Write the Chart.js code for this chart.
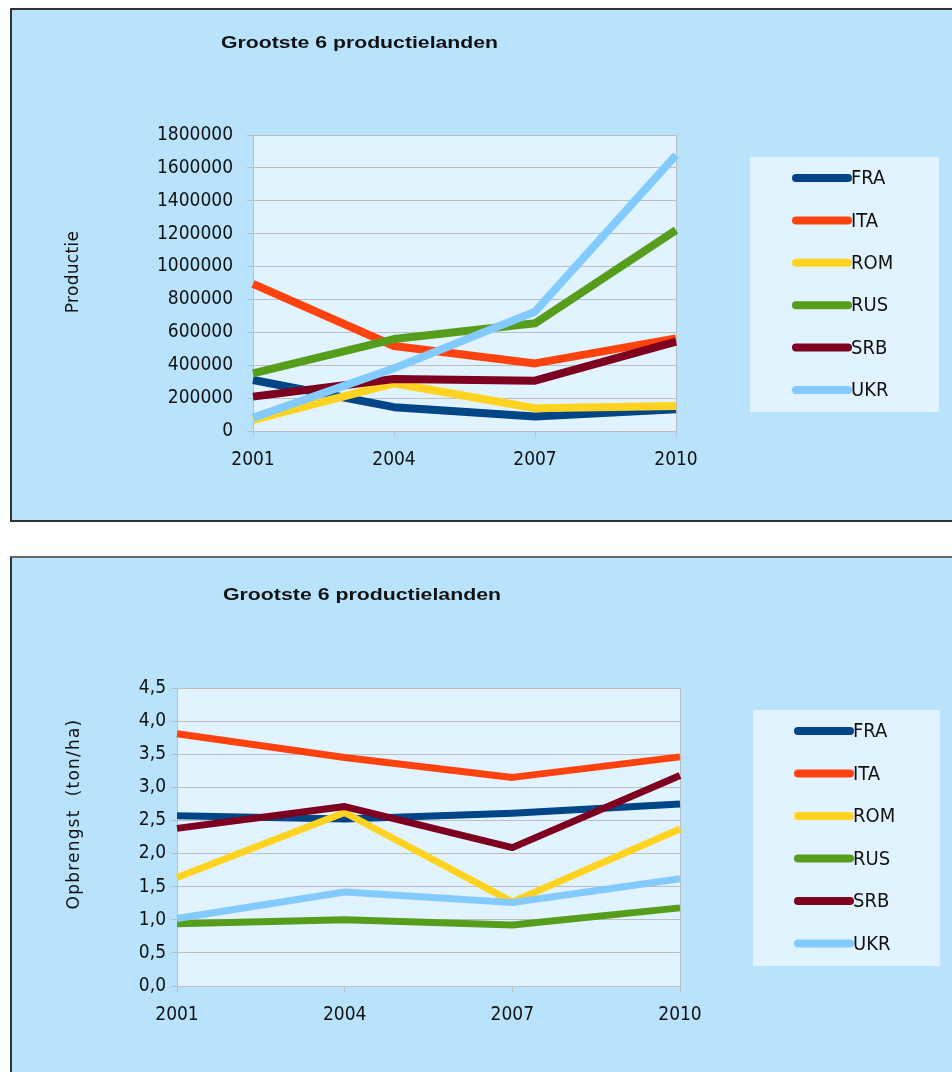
<!DOCTYPE html>
<html>
<head>
<meta charset="utf-8">
<script src="https://cdn.jsdelivr.net/npm/chart.js@4.4.0/dist/chart.umd.min.js"></script>
<style>
  html, body { margin: 0; padding: 0; background: #ffffff; width: 952px; height: 1072px; overflow: hidden; }
  .panel { position: absolute; left: 10px; width: 960px; background: #B9E3FD; border: 2px solid #333333; box-sizing: border-box; }
  #panel1 { top: 8px; height: 514px; }
  #panel2 { top: 556px; height: 540px; border-top-color: #6b6b6b; }
  .wrap { position: absolute; left: 0; width: 952px; }
  #wrap1 { top: 0; height: 540px; }
  #wrap2 { top: 540px; height: 532px; }
</style>
</head>
<body>
<div class="panel" id="panel1"></div>
<div class="panel" id="panel2"></div>
<div class="wrap" id="wrap1"><canvas id="prodChart" width="952" height="540"></canvas></div>
<div class="wrap" id="wrap2"><canvas id="yieldChart" width="952" height="532"></canvas></div>

<script>
// Years on the category axis and the six countries
const years = ['2001', '2004', '2007', '2010'];
const countries = ['FRA', 'ITA', 'ROM', 'RUS', 'SRB', 'UKR'];
const lineColors = ['#004586', '#FF420E', '#FFD320', '#579D1C', '#7E0021', '#83CAFF'];

// Production (ton)
const prodFRA = [310000, 145000, 88000, 132000];
const prodITA = [895000, 517000, 411000, 563000];
const prodROM = [67000, 290000, 138000, 152000];
const prodRUS = [351000, 559000, 655000, 1222000];
const prodSRB = [209000, 316000, 306000, 543000];
const prodUKR = [81000, 381000, 726000, 1678000];

// Yield (ton/ha)
const yieldFRA = [2.57, 2.52, 2.61, 2.75];
const yieldITA = [3.81, 3.45, 3.15, 3.46];
const yieldROM = [1.64, 2.62, 1.27, 2.37];
const yieldRUS = [0.94, 1.00, 0.92, 1.18];
const yieldSRB = [2.38, 2.71, 2.09, 3.18];
const yieldUKR = [1.02, 1.42, 1.26, 1.62];

// Value-axis tick labels
const prodTickLabels = ['0', '200000', '400000', '600000', '800000', '1000000', '1200000', '1400000', '1600000', '1800000'];
const yieldTickLabels = ['0,0', '0,5', '1,0', '1,5', '2,0', '2,5', '3,0', '3,5', '4,0', '4,5'];

const chartTitle = 'Grootste 6 productielanden';

const GRID = '#BBBFC2';
const PLOT_BG = '#E1F3FE';
const TEXT = '#111111';
const COND = "'DejaVu Sans Condensed', 'DejaVu Sans', sans-serif";

// Plot background, title, rotated axis title and the boxed legend
const decorPlugin = {
  id: 'decor',
  beforeDraw(chart, args, o) {
    const { ctx, chartArea: a } = chart;
    ctx.save();
    ctx.fillStyle = PLOT_BG;
    ctx.fillRect(a.left, a.top, a.right - a.left, a.bottom - a.top);
    ctx.restore();
  },
  afterDraw(chart, args, o) {
    const ctx = chart.ctx;
    // chart title (wide bold sans)
    ctx.save();
    ctx.font = 'bold 17px "Liberation Sans", Arial, sans-serif';
    ctx.fillStyle = TEXT;
    ctx.textBaseline = 'alphabetic';
    ctx.textAlign = 'left';
    const w = ctx.measureText(chartTitle).width;
    ctx.translate(o.titleX, o.titleY);
    ctx.scale(o.titleW / w, 1);
    ctx.fillText(chartTitle, 0, 0);
    ctx.restore();

    // value-axis title
    ctx.save();
    ctx.font = '17px "DejaVu Sans", sans-serif';
    ctx.letterSpacing = o.axisSpacing;
    ctx.fillStyle = TEXT;
    ctx.textAlign = 'center';
    ctx.textBaseline = 'alphabetic';
    ctx.translate(o.axisX, o.axisY);
    ctx.rotate(-Math.PI / 2);
    ctx.fillText(o.axisTitle, 0, 0);
    ctx.restore();

    // legend
    const L = o.legend;
    ctx.save();
    ctx.fillStyle = PLOT_BG;
    ctx.fillRect(L.x, L.y, L.w, L.h);
    chart.data.datasets.forEach((ds, i) => {
      const yy = L.firstRow + i * L.rowStep;
      ctx.strokeStyle = ds.borderColor;
      ctx.lineWidth = 8;
      ctx.lineCap = 'round';
      ctx.beginPath();
      ctx.moveTo(L.lineX1, yy);
      ctx.lineTo(L.lineX2, yy);
      ctx.stroke();
      ctx.fillStyle = TEXT;
      ctx.font = '20px ' + COND;
      ctx.textAlign = 'left';
      ctx.textBaseline = 'middle';
      ctx.fillText(ds.label, L.lineX2 + 3, yy + 1);
    });
    ctx.restore();
  }
};

function buildChart(canvasId, series, cfg) {
  const datasets = series.map((values, i) => ({
    label: countries[i],
    data: values,
    borderColor: lineColors[i],
    backgroundColor: lineColors[i],
    borderWidth: cfg.lineWidth,
    pointRadius: 0,
    pointHoverRadius: 0,
    tension: 0,
    fill: false,
    borderJoinStyle: 'round',
    order: series.length - i
  }));
  return new Chart(document.getElementById(canvasId), {
    type: 'line',
    data: { labels: years, datasets },
    plugins: [decorPlugin],
    options: {
      responsive: false,
      animation: false,
      events: [],
      layout: { padding: cfg.padding },
      plugins: {
        legend: { display: false },
        title: { display: false },
        tooltip: { enabled: false },
        decor: cfg.decor
      },
      scales: {
        x: {
          type: 'category',
          offset: false,
          grid: {
            drawOnChartArea: true,
            color: (c) => (c.index === years.length - 1 ? GRID : 'rgba(0,0,0,0)'),
            tickColor: GRID,
            tickLength: 6,
            lineWidth: 1
          },
          border: { display: true, color: GRID },
          ticks: { font: { family: COND, size: 19 }, color: TEXT, padding: 12, maxRotation: 0, autoSkip: false },
          afterFit: (s) => { s.height = 40; }
        },
        y: {
          min: 0,
          max: cfg.max,
          ticks: {
            stepSize: cfg.step,
            callback: (v, i) => cfg.tickLabels[i],
            font: { family: COND, size: 19 },
            color: TEXT,
            padding: cfg.yPad
          },
          grid: { color: GRID, tickColor: GRID, tickLength: 6, lineWidth: 1 },
          border: { display: true, color: GRID },
          afterFit: (s) => { s.width = cfg.yWidth; }
        }
      }
    }
  });
}

buildChart('prodChart', [prodFRA, prodITA, prodROM, prodRUS, prodSRB, prodUKR], {
  lineWidth: 8,
  max: 1800000,
  step: 200000,
  tickLabels: prodTickLabels,
  yPad: 14,
  yWidth: 243,
  padding: { left: 10, top: 135, right: 276, bottom: 69 },
  decor: {
    titleX: 221, titleY: 48, titleW: 277,
    axisTitle: 'Productie', axisX: 78, axisY: 272, axisSpacing: '0.3px',
    legend: { x: 750, y: 157, w: 189, h: 255, firstRow: 178, rowStep: 42.4, lineX1: 796, lineX2: 848 }
  }
});

buildChart('yieldChart', [yieldFRA, yieldITA, yieldROM, yieldRUS, yieldSRB, yieldUKR], {
  lineWidth: 7,
  max: 4.5,
  step: 0.5,
  tickLabels: yieldTickLabels,
  yPad: 5,
  yWidth: 167,
  padding: { left: 10, top: 148, right: 272, bottom: 46 },
  decor: {
    titleX: 223, titleY: 60, titleW: 278,
    axisTitle: 'Opbrengst  (ton/ha)', axisX: 79, axisY: 274, axisSpacing: '1.2px',
    legend: { x: 753, y: 170, w: 187, h: 256, firstRow: 191, rowStep: 42.5, lineX1: 798, lineX2: 850 }
  }
});
</script>
</body>
</html>
